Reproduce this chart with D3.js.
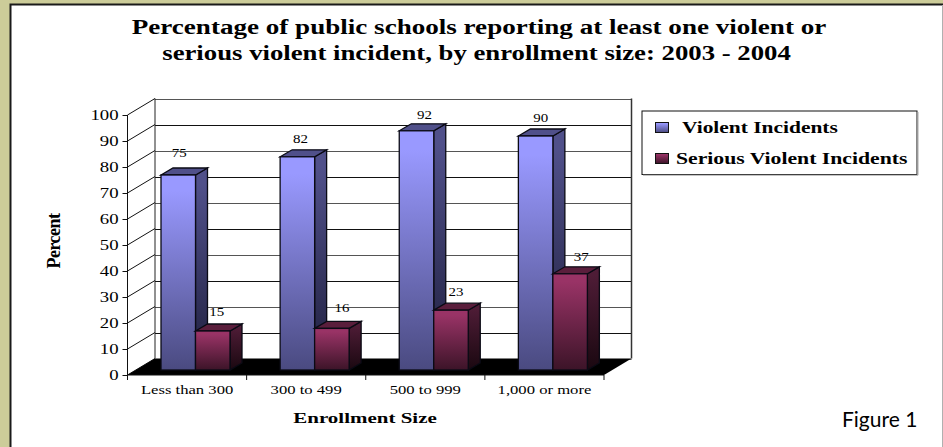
<!DOCTYPE html>
<html><head><meta charset="utf-8">
<style>html,body{margin:0;padding:0;background:#fff}svg{display:block}text{font-family:"Liberation Serif",serif;fill:#000}</style>
<script src="https://cdn.jsdelivr.net/npm/d3@7"></script></head><body><div id="c"></div>
<script>
const categories=["Less than 300","300 to 499","500 to 999","1,000 or more"];
const seriesNames=["Violent Incidents","Serious Violent Incidents"];
const violent=[75,82,92,90];
const serious=[15,16,23,37];
const yTicks=[0,10,20,30,40,50,60,70,80,90,100];
const titleLines=["Percentage of public schools reporting at least one violent or","serious violent incident, by enrollment size: 2003 - 2004"];
const W=943,H=447;
const svg=d3.select("#c").append("svg").attr("width",W).attr("height",H);
const defs=svg.append("defs");
function gradU(id,top,bot){const g=defs.append("linearGradient").attr("id",id).attr("gradientUnits","objectBoundingBox").attr("x1",0).attr("y1",0).attr("x2",0).attr("y2",1);
 g.append("stop").attr("offset","8%").attr("stop-color",top);g.append("stop").attr("offset","100%").attr("stop-color",bot);}
gradU("vFront","#9999ff","#4a4a80");gradU("vSide","#50508a","#1e1e3c");
gradU("sFront","#993366","#3c1428");gradU("sSide","#4e1c36","#1a0810");
gradU("lv","#9999ff","#4a4a80");gradU("ls","#993366","#3c1428");

svg.append("rect").attr("width",W).attr("height",H).attr("fill","#cccc99");
svg.append("rect").attr("x",10.5).attr("y",4.5).attr("width",W-10.5+4).attr("height",H+4).attr("fill","#fff").attr("stroke","#1a1a1a").attr("stroke-width",2);
svg.append("line").attr("x1",942.5).attr("x2",942.5).attr("y1",5).attr("y2",H).attr("stroke","#b0b0b0");

function tx(sel,x,y,sx,extra){return sel.append("text").attr("transform",`translate(${x},${y}) scale(${sx},1)${extra||""}`);}

const titleFit=[[479,33.5,1.354],[476.5,59.5,1.337]];
titleLines.forEach((t,i)=>tx(svg,titleFit[i][0],titleFit[i][1],titleFit[i][2]).attr("text-anchor","middle").attr("font-size",20).attr("font-weight","bold").text(t));

const frontL=127.5,frontR=604,front0=375,frontTop=115,depthX=27.5,depthY=16.5;
const x=d3.scaleBand().domain(categories).range([frontL,frontR]);
const y=d3.scaleLinear().domain([0,100]).range([front0,frontTop]);
const sub=d3.scaleBand().domain(seriesNames).range([33.5,102.5]);
const barLift=5,sideX=12,sideY=7;

// walls
const wall=svg.append("g");
wall.append("rect").attr("x",frontL+depthX).attr("y",y(100)-depthY).attr("width",frontR-frontL).attr("height",front0-frontTop).attr("fill","#fff");
wall.selectAll(".gb").data(yTicks).join("line").attr("x1",frontL+depthX).attr("x2",frontR+depthX)
 .attr("y1",d=>Math.round(y(d)-depthY)+.5).attr("y2",d=>Math.round(y(d)-depthY)+.5).attr("stroke",(d,i)=>i%2?"#111":"#555").attr("stroke-width",1.2);
wall.selectAll(".gs").data(yTicks).join("line").attr("x1",frontL).attr("x2",frontL+depthX)
 .attr("y1",d=>y(d)).attr("y2",d=>y(d)-depthY).attr("stroke","#111");
wall.append("line").attr("x1",frontL+depthX).attr("x2",frontL+depthX).attr("y1",y(100)-depthY).attr("y2",y(0)-depthY).attr("stroke","#222");
wall.append("line").attr("x1",frontR+depthX).attr("x2",frontR+depthX).attr("y1",y(100)-depthY).attr("y2",y(0)-depthY).attr("stroke","#333").attr("stroke-width",1.5);
wall.append("path").attr("d",d3.line()([[frontL,front0],[frontR,front0],[frontR+depthX,front0-depthY],[frontL+depthX,front0-depthY]])+"Z").attr("fill","#000");

// bars
const seriesData=[{name:seriesNames[0],vals:violent,f:"url(#vFront)",s:"url(#vSide)",t:"#50508a"},{name:seriesNames[1],vals:serious,f:"url(#sFront)",s:"url(#sSide)",t:"#5a1e3c"}];
const bars=svg.append("g");
seriesData.forEach(sr=>{
 const g=bars.append("g").selectAll("g").data(categories.map((c,i)=>({c,v:sr.vals[i]}))).join("g");
 const x0=d=>x(d.c)+sub(sr.name),x1=d=>x0(d)+sub.bandwidth(),top=d=>y(d.v)-barLift,bot=()=>y(0)-barLift;
 g.append("path").attr("d",d=>d3.line()([[x1(d),top(d)],[x1(d)+sideX,top(d)-sideY],[x1(d)+sideX,bot()-sideY],[x1(d),bot()]])+"Z").attr("fill",sr.s).attr("stroke","#0a0a14").attr("stroke-width",1.3);
 g.append("path").attr("d",d=>d3.line()([[x0(d),top(d)],[x1(d),top(d)],[x1(d)+sideX,top(d)-sideY],[x0(d)+sideX,top(d)-sideY]])+"Z").attr("fill",sr.t).attr("stroke","#0a0a14").attr("stroke-width",1.3);
 g.append("rect").attr("x",x0).attr("y",top).attr("width",sub.bandwidth()).attr("height",d=>bot()-top(d)).attr("fill",sr.f).attr("stroke","#0a0a14").attr("stroke-width",1.3);
});
// value labels
const vNudge=[[1,-18],[3,-14],[8,-12],[5,-14]],sNudge=[[4,-15],[10,-16],[5,-14],[11,-13]];
seriesData.forEach((sr,k)=>{const n=k?sNudge:vNudge;
 sr.vals.forEach((v,i)=>{tx(svg,x(categories[i])+sub(sr.name)+sub.bandwidth()/2+n[i][0],y(v)-barLift+n[i][1],1.15).attr("text-anchor","middle").attr("font-size",13).text(v);});
});

// y axis
const ya=svg.append("g").attr("transform",`translate(${frontL},0)`).call(d3.axisLeft(y).tickValues(yTicks).tickSize(5).tickPadding(0));
ya.select(".domain").attr("stroke","#111").attr("d",`M0,${y(100)}V${y(0)}`);
ya.selectAll(".tick line").attr("stroke","#111");
ya.selectAll(".tick text").attr("font-family","Liberation Serif").attr("font-size",15).attr("fill","#000").attr("x",0).attr("dy",0).attr("y",0)
 .attr("transform","translate(-9,4.5) scale(1.25,1)").attr("text-anchor","end");

// x axis
const xa=svg.append("g").attr("transform",`translate(0,${front0})`);
xa.append("line").attr("x1",frontL).attr("x2",frontR).attr("stroke","#111");
xa.selectAll(".t").data(categories.concat(["end"])).join("line").attr("x1",(d,i)=>frontL+i*x.bandwidth()).attr("x2",(d,i)=>frontL+i*x.bandwidth()).attr("y1",0).attr("y2",5).attr("stroke","#111");
categories.forEach(c=>tx(svg,x(c)+x.bandwidth()/2,394,1.28).attr("text-anchor","middle").attr("font-size",13).text(c));

tx(svg,365,423,1.4).attr("text-anchor","middle").attr("font-size",15).attr("font-weight","bold").text("Enrollment Size");
svg.append("text").attr("transform","translate(60,241) rotate(-90)").attr("text-anchor","middle").attr("font-size",18).attr("font-weight","bold").attr("letter-spacing",-0.5).text("Percent");

// legend
const lg=svg.append("g");
lg.append("rect").attr("x",642).attr("y",111).attr("width",275).attr("height",63.5).attr("fill","#fff").attr("stroke","#111");
lg.append("path").attr("d","M643,175.2H918V112").attr("fill","none").attr("stroke","#aaa");
[["lv",122,682,133,seriesNames[0],1.3],["ls",153,676,164,seriesNames[1],1.315]].forEach(r=>{
 lg.append("rect").attr("x",655.5).attr("y",r[1]+.5).attr("width",13).attr("height",10).attr("fill",`url(#${r[0]})`).attr("stroke","#111");
 tx(lg,r[2],r[3],r[5]).attr("font-size",16.5).attr("font-weight","bold").text(r[4]);
});

svg.append("text").attr("x",842).attr("y",427).style("font-family","Lato").attr("font-size",21).attr("fill","#111").text("Figure 1");
</script></body></html>
